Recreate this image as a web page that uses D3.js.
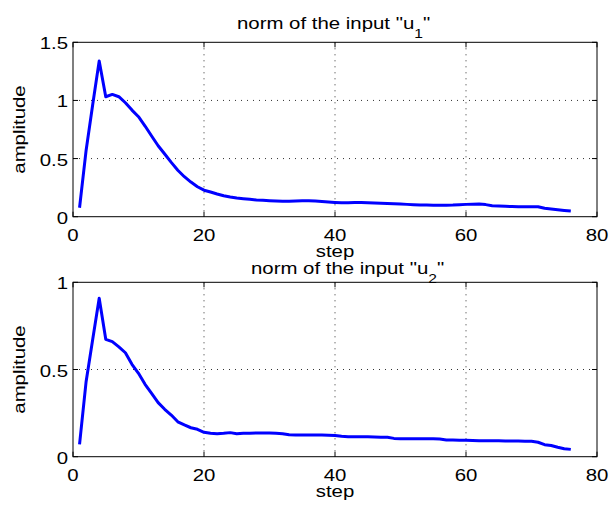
<!DOCTYPE html>
<html><head><meta charset="utf-8">
<script src="https://cdn.jsdelivr.net/npm/d3@7"></script>
<style>
body{margin:0;background:#fff}
svg{display:block}
text{font-family:"Liberation Sans",Arial,Helvetica,sans-serif;fill:#000}
</style>
</head><body>
<svg id="chart" width="611" height="509"></svg>
<script>
const steps = d3.range(1, 77);
const u1Values = [0.077,0.57,0.96,1.34,1.032,1.052,1.032,0.98,0.917,0.86,
  0.78,0.694,0.61,0.539,0.467,0.40,0.344,0.298,0.258,0.228,
  0.212,0.195,0.18,0.169,0.16,0.155,0.15,0.144,0.141,0.138,
  0.135,0.132,0.133,0.135,0.137,0.138,0.134,0.13,0.126,0.123,
  0.121,0.12,0.122,0.123,0.12,0.117,0.115,0.113,0.111,0.109,
  0.106,0.103,0.101,0.1,0.099,0.098,0.099,0.1,0.103,0.106,
  0.108,0.109,0.104,0.095,0.092,0.089,0.087,0.086,0.086,0.086,
  0.086,0.072,0.066,0.06,0.054,0.049];
const u2Values = [0.071,0.43,0.67,0.908,0.673,0.66,0.63,0.596,0.53,0.478,
  0.415,0.363,0.31,0.272,0.239,0.2,0.182,0.166,0.157,0.14,
  0.134,0.132,0.134,0.138,0.132,0.134,0.135,0.136,0.136,0.136,
  0.134,0.132,0.126,0.124,0.124,0.124,0.124,0.124,0.123,0.122,
  0.117,0.115,0.115,0.115,0.114,0.113,0.112,0.111,0.105,0.103,
  0.103,0.103,0.103,0.103,0.103,0.101,0.096,0.096,0.095,0.094,
  0.093,0.092,0.092,0.092,0.091,0.09,0.09,0.09,0.089,0.088,
  0.083,0.069,0.064,0.054,0.046,0.042];
const xTicks = [0, 20, 40, 60, 80];
const yTicksTop = [0, 0.5, 1, 1.5];
const yTicksBottom = [0, 0.5, 1];
const xLabel = "step";
const yLabel = "amplitude";
const titleText = "norm of the input \"u";
const subTop = "1";
const subBottom = "2";

const svg = d3.select("#chart");
const FS = 17, SX = 1.2;
const X0 = 73, X1 = 597;

function addText(g, x, y, str, anchor, rot) {
  const t = g.append("text")
    .attr("transform", `translate(${x},${y}) rotate(${rot||0}) scale(${SX},1)`)
    .attr("text-anchor", anchor)
    .attr("font-size", FS)
    .text(str);
  return t;
}

function panel(cfg) {
  const g = svg.append("g");
  const x = d3.scaleLinear().domain([0, 80]).range([X0, X1]);
  const y = d3.scaleLinear().domain([0, cfg.yMax]).range([cfg.bottom, cfg.top]);
  // grid
  g.selectAll(".gx").data(xTicks.filter(d => d > 0 && d < 80)).enter().append("line")
    .attr("x1", d => x(d)).attr("x2", d => x(d)).attr("y1", cfg.top).attr("y2", cfg.bottom)
    .attr("stroke", "#333").attr("stroke-width", 1).attr("stroke-dasharray", "1,5");
  g.selectAll(".gy").data(cfg.yTicks.filter(d => d > 0 && d < cfg.yMax)).enter().append("line")
    .attr("x1", X0).attr("x2", X1).attr("y1", d => y(d)).attr("y2", d => y(d))
    .attr("stroke", "#333").attr("stroke-width", 1).attr("stroke-dasharray", "1,5");
  // line
  g.append("path").datum(cfg.values)
    .attr("fill", "none").attr("stroke", "#0000ff").attr("stroke-width", 3)
    .attr("stroke-linejoin", "round")
    .attr("d", d3.line().x((d, i) => x(steps[i])).y(d => y(d)));
  // box
  g.append("rect").attr("x", X0).attr("y", cfg.top).attr("width", X1 - X0).attr("height", cfg.bottom - cfg.top)
    .attr("fill", "none").attr("stroke", "#000").attr("stroke-width", 1);
  // ticks inward on all sides
  const TL = 5;
  xTicks.forEach(d => {
    g.append("line").attr("x1", x(d)).attr("x2", x(d)).attr("y1", cfg.bottom).attr("y2", cfg.bottom - TL).attr("stroke", "#000");
    g.append("line").attr("x1", x(d)).attr("x2", x(d)).attr("y1", cfg.top).attr("y2", cfg.top + TL).attr("stroke", "#000");
    addText(g, x(d), cfg.bottom + 24, String(d), "middle");
  });
  cfg.yTicks.forEach(d => {
    g.append("line").attr("x1", X0).attr("x2", X0 + TL).attr("y1", y(d)).attr("y2", y(d)).attr("stroke", "#000");
    g.append("line").attr("x1", X1).attr("x2", X1 - TL).attr("y1", y(d)).attr("y2", y(d)).attr("stroke", "#000");
    addText(g, X0 - 5, y(d) + 7, d3.format("")(d), "end");
  });
  addText(g, (X0 + X1) / 2, cfg.bottom + 40, xLabel, "middle");
  addText(g, 25, (cfg.top + cfg.bottom) / 2, yLabel, "middle", -90);
  const t = addText(g, cfg.titleX, cfg.titleY, "", "start");
  t.append("tspan").text(titleText);
  t.append("tspan").attr("font-size", 13).attr("dy", 9).text(cfg.sub);
  t.append("tspan").attr("dy", -9).text("\"");
}

panel({top: 42.3, bottom: 216.7, yMax: 1.5, yTicks: yTicksTop, values: u1Values, titleX: 237, titleY: 29, sub: subTop});
panel({top: 282.3, bottom: 456.7, yMax: 1, yTicks: yTicksBottom, values: u2Values, titleX: 251, titleY: 274, sub: subBottom});
</script>
</body></html>
